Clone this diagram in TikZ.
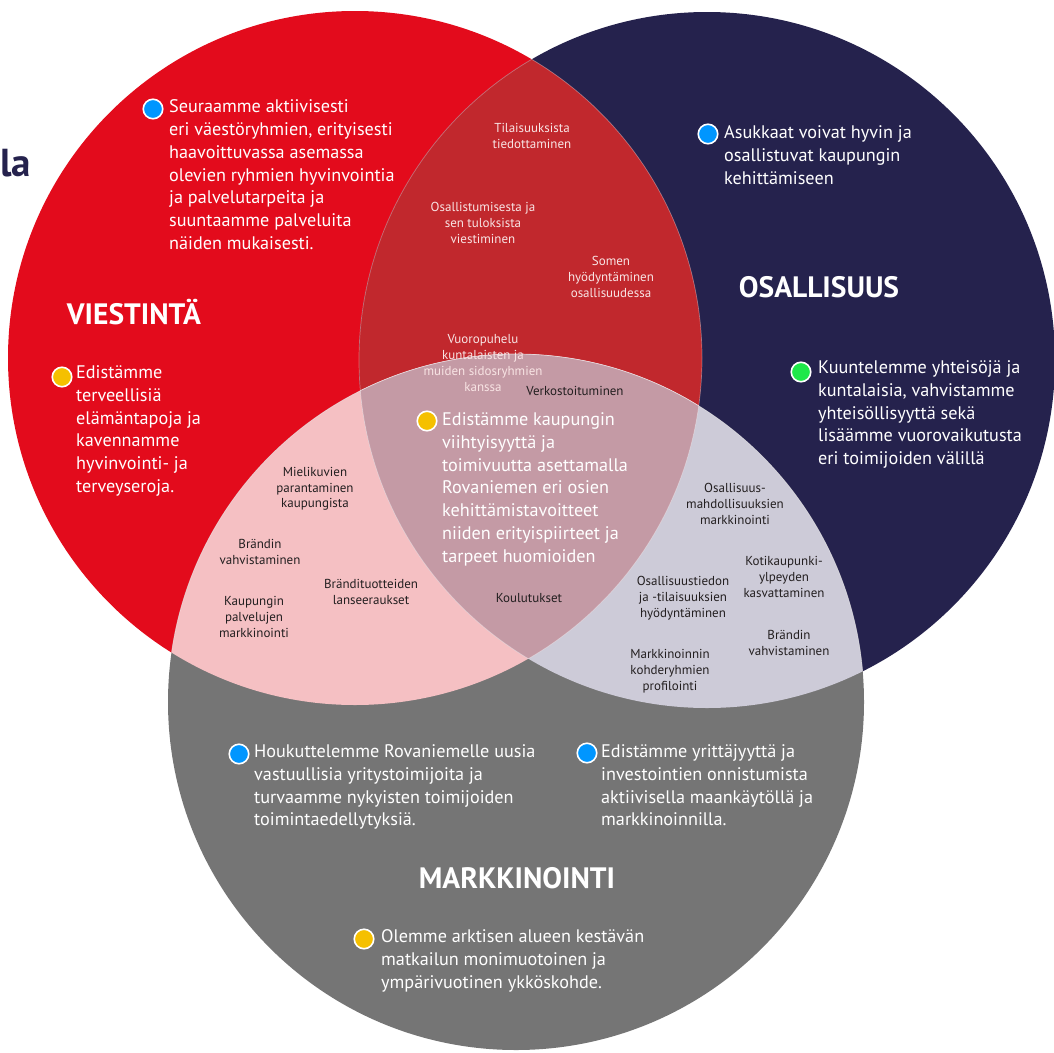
\documentclass[tikz,border=0pt]{standalone}
\usepackage{fontspec}
\setmainfont{PT Sans}
\definecolor{redc}{RGB}{227,11,28}
\definecolor{navyc}{RGB}{37,34,77}
\definecolor{greyc}{RGB}{117,117,117}
\definecolor{rnc}{RGB}{193,40,45}
\definecolor{rgc}{RGB}{245,192,195}
\definecolor{ngc}{RGB}{205,203,216}
\definecolor{rngc}{RGB}{196,154,165}
\definecolor{darktxt}{RGB}{35,31,32}
\definecolor{softwhite}{RGB}{248,228,228}
\definecolor{bluedot}{RGB}{0,150,255}
\definecolor{yellowdot}{RGB}{245,192,0}
\definecolor{greendot}{RGB}{30,232,74}
\tikzset{
  body/.style={font=\fontsize{18.2}{22.8}\selectfont, text=white, align=left, anchor=north west, inner sep=0pt},
  small/.style={font=\fontsize{13}{15.7}\selectfont, align=center, inner sep=0pt},
  smallw/.style={small, text=softwhite},
  smalld/.style={small, text=darktxt},
  titletxt/.style={font=\bfseries\fontsize{29.5}{32}\selectfont, text=white, inner sep=0pt},
  dot/.style={circle, draw=white, line width=1.6pt, minimum size=19.5pt, inner sep=0pt}
}
\begin{document}
\begin{tikzpicture}[x=1pt,y=-1pt]
\useasboundingbox (0,0) rectangle (1054,1052);
\begin{scope}
\clip (0,0) rectangle (1054,1052);
% circles
\fill[redc] (355,358) circle (347);
\fill[navyc] (707,360) circle (348);
\fill[greyc] (516,702) circle (348);
% pairwise intersections
\begin{scope}
  \clip (355,358) circle (347);
  \fill[rnc] (707,360) circle (348);
  \fill[rgc] (516,702) circle (348);
\end{scope}
\begin{scope}
  \clip (707,360) circle (348);
  \fill[ngc] (516,702) circle (348);
  \clip (355,358) circle (347);
  \fill[rngc] (516,702) circle (348);
\end{scope}
% faint edges inside overlaps
\begin{scope}
  \clip (355,358) circle (347);
  \draw[white, opacity=0.35, line width=0.7pt] (707,360) circle (348);
  \draw[white, opacity=0.35, line width=0.7pt] (516,702) circle (348);
\end{scope}
\begin{scope}
  \clip (707,360) circle (348);
  \draw[white, opacity=0.35, line width=0.7pt] (355,358) circle (347);
  \draw[white, opacity=0.35, line width=0.7pt] (516,702) circle (348);
\end{scope}
\end{scope}

% title fragment at the left edge
\node[font=\bfseries\fontsize{39}{44}\selectfont, text=navyc, anchor=base west, inner sep=0pt] (cut) at (0,176) {la};

% titles
\node[titletxt] (tv) at (134,312) {VIESTINTÄ};
\node[titletxt] (to) at (819,287) {OSALLISUUS};
\node[titletxt] (tm) at (517,878) {MARKKINOINTI};

% bullets and body texts
\node[dot, fill=bluedot] (d1) at (153,109) {};
\node[body] (t1) at (169,99.5) {Seuraamme aktiivisesti\\eri väestöryhmien, erityisesti\\haavoittuvassa asemassa\\olevien ryhmien hyvinvointia\\ja palvelutarpeita ja\\suuntaamme palveluita\\näiden mukaisesti.};

\node[dot, fill=yellowdot] (d2) at (62,377) {};
\node[body] (t2) at (76,365.5) {Edistämme\\terveellisiä\\elämäntapoja ja\\kavennamme\\hyvinvointi- ja\\terveyseroja.};

\node[dot, fill=bluedot] (d3) at (708,134) {};
\node[body] (t3) at (724,125.5) {Asukkaat voivat hyvin ja\\osallistuvat kaupungin\\kehittämiseen};

\node[dot, fill=greendot] (d4) at (801,372) {};
\node[body] (t4) at (818,360.5) {Kuuntelemme yhteisöjä ja\\kuntalaisia, vahvistamme\\yhteisöllisyyttä sekä\\lisäämme vuorovaikutusta\\eri toimijoiden välillä};

\node[dot, fill=yellowdot] (d5) at (427,421) {};
\node[body] (t5) at (442,412.5) {Edistämme kaupungin\\viihtyisyyttä ja\\toimivuutta asettamalla\\Rovaniemen eri osien\\kehittämistavoitteet\\niiden erityispiirteet ja\\tarpeet huomioiden};

\node[dot, fill=bluedot] (d6) at (239,754) {};
\node[body] (t6) at (254,744.5) {Houkuttelemme Rovaniemelle uusia\\vastuullisia yritystoimijoita ja\\turvaamme nykyisten toimijoiden\\toimintaedellytyksiä.};

\node[dot, fill=bluedot] (d7) at (587,753) {};
\node[body] (t7) at (601,744.5) {Edistämme yrittäjyyttä ja\\investointien onnistumista\\aktiivisella maankäytöllä ja\\markkinoinnilla.};

\node[dot, fill=yellowdot] (d8) at (364,939) {};
\node[body] (t8) at (381,929.5) {Olemme arktisen alueen kestävän\\matkailun monimuotoinen ja\\ympärivuotinen ykköskohde.};

% small texts, red-navy overlap
\node[smallw] (s1) at (532,136) {Tilaisuuksista\\tiedottaminen};
\node[smallw] (s2) at (483,223) {Osallistumisesta ja\\sen tuloksista\\viestiminen};
\node[smallw] (s3) at (611,277) {Somen\\hyödyntäminen\\osallisuudessa};
\node[smallw] (s4) at (483,363) {Vuoropuhelu\\kuntalaisten ja\\muiden sidosryhmien\\kanssa};
\node[smalld] (s5) at (575,391) {Verkostoituminen};

% red-grey overlap
\node[smalld] (s6) at (315,489) {Mielikuvien\\parantaminen\\kaupungista};
\node[smalld] (s7) at (260,552) {Brändin\\vahvistaminen};
\node[smalld] (s8) at (254,617) {Kaupungin\\palvelujen\\markkinointi};
\node[smalld] (s9) at (371,592) {Brändituotteiden\\lanseeraukset};
\node[smalld] (s10) at (529,598) {Koulutukset};

% navy-grey overlap
\node[smalld] (s11) at (735,504) {Osallisuus-\\mahdollisuuksien\\markkinointi};
\node[smalld] (s12) at (784,577) {Kotikaupunki-\\ylpeyden\\kasvattaminen};
\node[smalld] (s13) at (683,598) {Osallisuustiedon\\ja -tilaisuuksien\\hyödyntäminen};
\node[smalld] (s14) at (789,643) {Brändin\\vahvistaminen};
\node[smalld] (s15) at (670,671) {Markkinoinnin\\kohderyhmien\\profilointi};
\end{tikzpicture}
\end{document}
